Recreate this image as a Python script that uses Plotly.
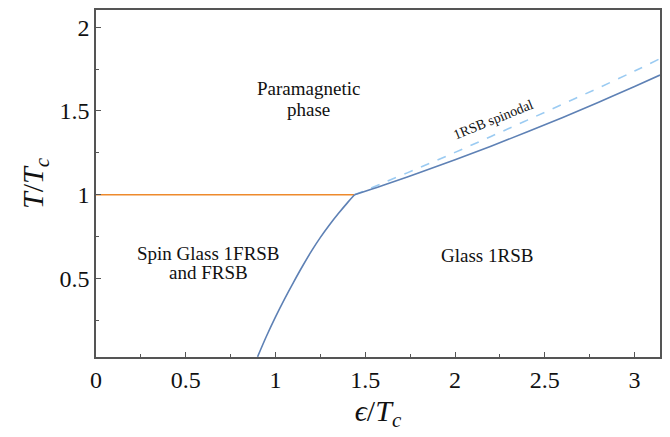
import plotly.graph_objects as go
import math

# Data
orange_eps = [0.0, 1.44]
orange_T = [1.0, 1.0]

low_eps = [0.90, 0.95, 1.00, 1.05, 1.10, 1.15, 1.20, 1.25, 1.30, 1.35, 1.40, 1.44]
low_T = [0.034, 0.158, 0.272, 0.378, 0.478, 0.574, 0.664, 0.746, 0.820, 0.888, 0.952, 1.0]

up_eps = [1.44, 1.6, 1.8, 2.0, 2.2, 2.4, 2.6, 2.8, 3.0, 3.1416]
up_T = [1.0, 1.057, 1.131, 1.209, 1.290, 1.374, 1.461, 1.552, 1.646, 1.714]

spin_eps = [1.44, 1.6, 1.8, 2.0, 2.2, 2.4, 2.6, 2.8, 3.0, 3.1416]
spin_T = [1.0, 1.071, 1.161, 1.253, 1.348, 1.444, 1.541, 1.638, 1.738, 1.812]

x_tickvals = [0, 0.5, 1, 1.5, 2, 2.5, 3]
x_ticktext = ["0", "0.5", "1", "1.5", "2", "2.5", "3"]
y_tickvals = [0.5, 1, 1.5, 2]
y_ticktext = ["0.5", "1", "1.5", "2"]

BLUE = "#5E81B5"
LIGHT = "#9BCBF2"
ORANGE = "#EE8A2C"
SERIF = "'Liberation Serif', 'Times New Roman', serif"

fig = go.Figure()
fig.add_trace(go.Scatter(x=orange_eps, y=orange_T, mode="lines",
                         line=dict(color=ORANGE, width=1.6), showlegend=False))
fig.add_trace(go.Scatter(x=spin_eps, y=spin_T, mode="lines",
                         line=dict(color=LIGHT, width=1.6, dash="dash", shape="spline"), showlegend=False))
fig.add_trace(go.Scatter(x=low_eps, y=low_T, mode="lines",
                         line=dict(color=BLUE, width=1.6, shape="spline"), showlegend=False))
fig.add_trace(go.Scatter(x=up_eps, y=up_T, mode="lines",
                         line=dict(color=BLUE, width=1.6, shape="spline"), showlegend=False))

def ann(x, y, text, size=19, angle=0):
    fig.add_annotation(x=x, y=y, text=text, showarrow=False, textangle=angle,
                       font=dict(family=SERIF, size=size, color="#111"),
                       xref="x", yref="y", xanchor="center", yanchor="middle")

ann(1.183, 1.635, "Paramagnetic")
ann(1.183, 1.51, "phase")
ann(0.624, 0.65, "Spin Glass 1FRSB")
ann(0.624, 0.535, "and FRSB")
ann(2.178, 0.638, "Glass 1RSB")
ann(2.215, 1.45, "1RSB spinodal", size=14, angle=-22)

axis_common = dict(showgrid=False, zeroline=False, showline=True, mirror=True,
                   linecolor="#555", linewidth=1.5, ticks="inside", ticklen=5,
                   tickwidth=1, tickcolor="#555",
                   tickfont=dict(family=SERIF, size=24, color="#111"))

fig.update_xaxes(range=[0, math.pi], tickvals=x_tickvals, ticktext=x_ticktext,
                 minor=dict(ticks="inside", dtick=0.25, tick0=0, ticklen=3, tickcolor="#555"),
                 title=dict(text="<i>ϵ</i>/<i>T</i><sub><i>c</i></sub>",
                            font=dict(family=SERIF, size=30, color="#111"), standoff=8),
                 **axis_common)
fig.update_yaxes(range=[0.033, 2.102], tickvals=y_tickvals, ticktext=y_ticktext,
                 minor=dict(ticks="inside", dtick=0.25, tick0=0, ticklen=3, tickcolor="#555"),
                 title=dict(text="<i>T</i>/<i>T</i><sub><i>c</i></sub>",
                            font=dict(family=SERIF, size=30, color="#111"), standoff=7),
                 **axis_common)

fig.update_layout(width=670, height=437, margin=dict(l=96, r=8, t=8, b=80),
                  paper_bgcolor="white", plot_bgcolor="white")

fig.write_html("out.html", config={"displayModeBar": False},
               post_script="document.body.style.margin='0';document.body.style.padding='0';")
